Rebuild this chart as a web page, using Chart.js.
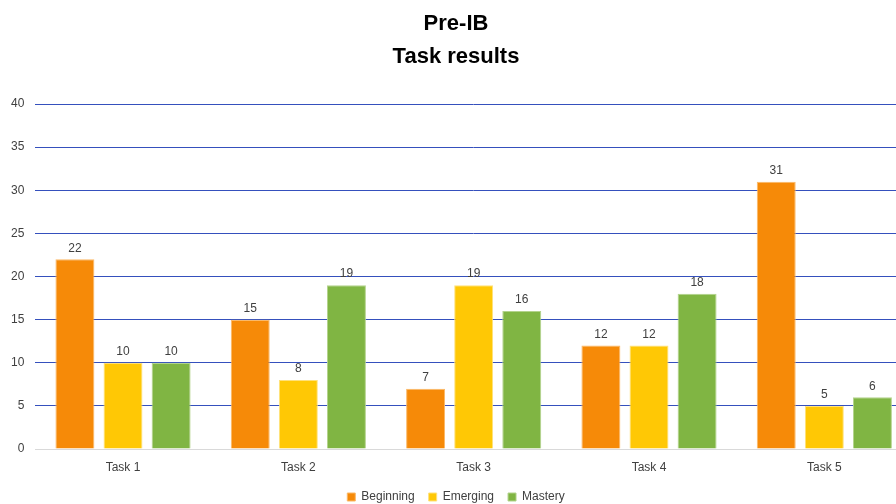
<!DOCTYPE html>
<html>
<head>
<meta charset="utf-8">
<script src="https://cdn.jsdelivr.net/npm/chart.js@4.4.1/dist/chart.umd.min.js"></script>
<style>
  html, body { margin: 0; padding: 0; background: #fff; overflow: hidden; }
  #wrap { width: 896px; height: 504px; overflow: hidden; }
</style>
</head>
<body>
<div id="wrap"><canvas id="myChart" width="912" height="513"></canvas></div>
<script>
const tasks = ['Task 1', 'Task 2', 'Task 3', 'Task 4', 'Task 5']
const beginning = [22, 15, 7, 12, 31]
const emerging = [10, 8, 19, 12, 5]
const mastery = [10, 19, 16, 18, 6]

const font_name = '"Liberation Sans", Arial, sans-serif'

// numbers above each bar
const barValues = {
  id: 'barValues',
  afterDatasetsDraw(chart) {
    const ctx = chart.ctx
    ctx.save()
    ctx.font = '12px ' + font_name
    ctx.fillStyle = '#404040'
    ctx.textAlign = 'center'
    ctx.textBaseline = 'bottom'
    chart.data.datasets.forEach((ds, i) => {
      chart.getDatasetMeta(i).data.forEach((bar, j) => {
        ctx.fillText(ds.data[j], bar.x, bar.y - 5)
      })
    })
    ctx.restore()
  }
}

const ctx = document.getElementById('myChart').getContext('2d')
const chart = new Chart(ctx, {
  type: 'bar',
  data: {
    labels: tasks,
    datasets: [
      { label: 'Beginning', data: beginning, backgroundColor: '#f68a08', borderColor: '#fbb866', borderWidth: 1 },
      { label: 'Emerging', data: emerging, backgroundColor: '#ffc805', borderColor: '#ffe17a', borderWidth: 1 },
      { label: 'Mastery', data: mastery, backgroundColor: '#80b543', borderColor: '#b3d38c', borderWidth: 1 }
    ]
  },
  options: {
    responsive: false,
    animation: false,
    categoryPercentage: 0.823,
    barPercentage: 0.81,
    layout: { padding: { left: 0, right: 0, top: 0, bottom: 0 } },
    plugins: {
      title: {
        display: true,
        text: ['Pre-IB', 'Task results'],
        color: '#000',
        font: { family: font_name, size: 22, weight: 'bold', lineHeight: 1.5 },
        padding: { top: 7, bottom: 31 }
      },
      legend: {
        position: 'bottom',
        labels: {
          color: '#404040',
          font: { family: font_name, size: 12 },
          boxWidth: 8,
          boxHeight: 8,
          padding: 14
        }
      },
      tooltip: { enabled: false }
    },
    scales: {
      x: {
        grid: { display: false },
        border: { color: '#d9d9d9' },
        ticks: { color: '#404040', font: { family: font_name, size: 12 }, padding: 3 },
        afterFit(scale) { scale.height = 28 }
      },
      y: {
        min: 0,
        max: 40,
        ticks: { stepSize: 5, color: '#404040', font: { family: font_name, size: 12 }, padding: 11 },
        grid: {
          drawTicks: false,
          color: c => c.tick.value === 0 ? '#d9d9d9' : '#3550bd',
          lineWidth: 1
        },
        border: { display: false }
      }
    }
  },
  plugins: [barValues]
})
</script>
</body>
</html>
